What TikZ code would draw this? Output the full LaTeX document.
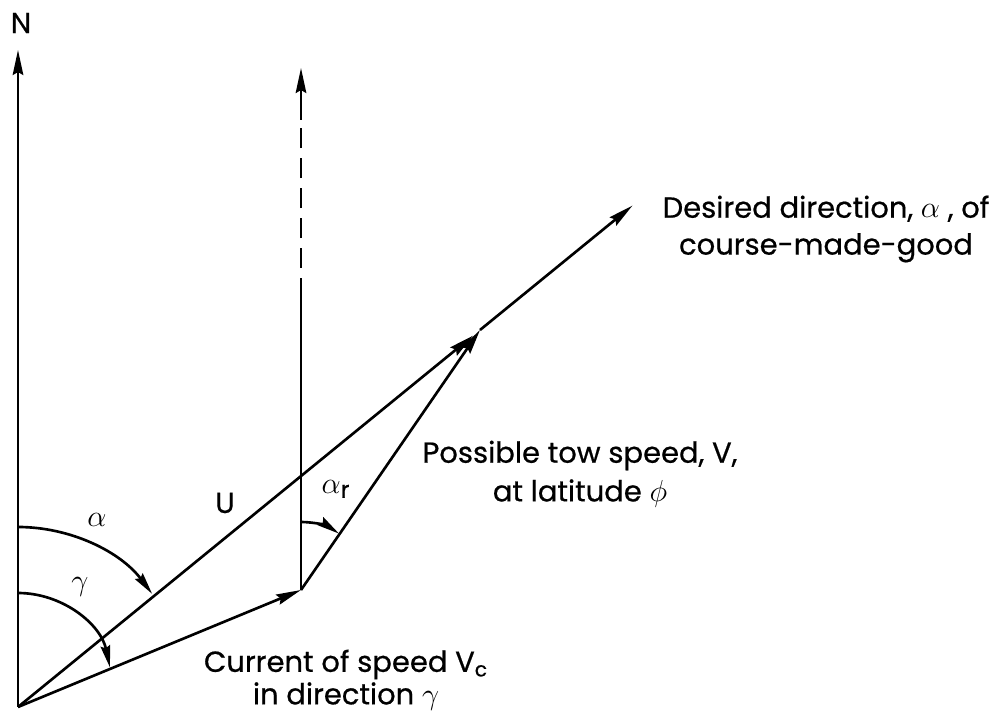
\documentclass[tikz,border=0pt]{standalone}
\usepackage{fontspec}
\setmainfont{Poppins}[FakeBold=0.6]
\usetikzlibrary{arrows.meta,calc}
\begin{document}
\begin{tikzpicture}[x=0.02cm,y=0.02cm,
  vec/.style={line width=1.5pt, -{Stealth[length=0.5cm,width=0.21cm,inset=0.06cm]}},
  ln/.style={line width=1.5pt},
  arcarrow/.style={line width=1.5pt, -{Stealth[length=0.44cm,width=0.19cm,inset=0.05cm]}},
  lbl/.style={font=\fontsize{16.5}{21}\selectfont, inner sep=0pt},
  glbl/.style={font=\fontsize{19}{23}\selectfont, inner sep=0pt},
  txt/.style={font=\fontsize{16.5}{21}\selectfont, inner sep=0pt, align=center}]
\useasboundingbox (0,0) rectangle (999,715);
\coordinate (O) at (18,8);
\coordinate (Ntip) at (18,665);
\coordinate (P) at (480,385);
\coordinate (C) at (301,125);
\coordinate (V1) at (301,417);
\coordinate (V2) at (301,595);
\coordinate (Vtop) at (301,647);
\coordinate (D) at ($(O)!1.33!(P)$);
\coordinate (Uend) at ($(O)!0.985!(P)$);
% main vectors
\draw[vec] (O) -- (Ntip);
\draw[vec] (O) -- (C);
\draw[vec] (O) -- (Uend);
\draw[vec] (P) -- (D);
\draw[vec] (C) -- (P);
% vertical at end of current
\draw[ln] (C) -- (V1);
\draw[ln, dash pattern=on 0.4cm off 0.2cm] (V1) -- (V2);
\draw[vec] (V2) -- (Vtop);
% angle arcs
\draw[arcarrow] (18,188) arc[start angle=90, end angle=37, radius=168];
\draw[arcarrow] (18,122) arc[start angle=90, end angle=12, radius=94];
\draw[arcarrow] (301,193) arc[start angle=90, end angle=56, radius=68];
% labels
\node[lbl] (N) at (21,692) {N};
\node[glbl] (alab) at (97,195) {$\alpha$};
\node[glbl] (glab) at (80,128) {$\gamma$};
\node[lbl] (Ulab) at (225,212) {U};
\node[glbl] (arlab) at (336,226) {$\alpha$\textsubscript{r}};
\node[txt] (desired) at (826,486) {Desired direction, $\alpha$ , of\\course-made-good};
\node[txt, font=\fontsize{16.5}{22}\selectfont] (tow) at (580,241) {Possible tow speed, V,\\at latitude $\phi$};
\node[txt, font=\fontsize{16.5}{18.5}\selectfont] (current) at (346,35) {Current of speed V\textsubscript{c}\\in direction $\gamma$};
\end{tikzpicture}
\end{document}
